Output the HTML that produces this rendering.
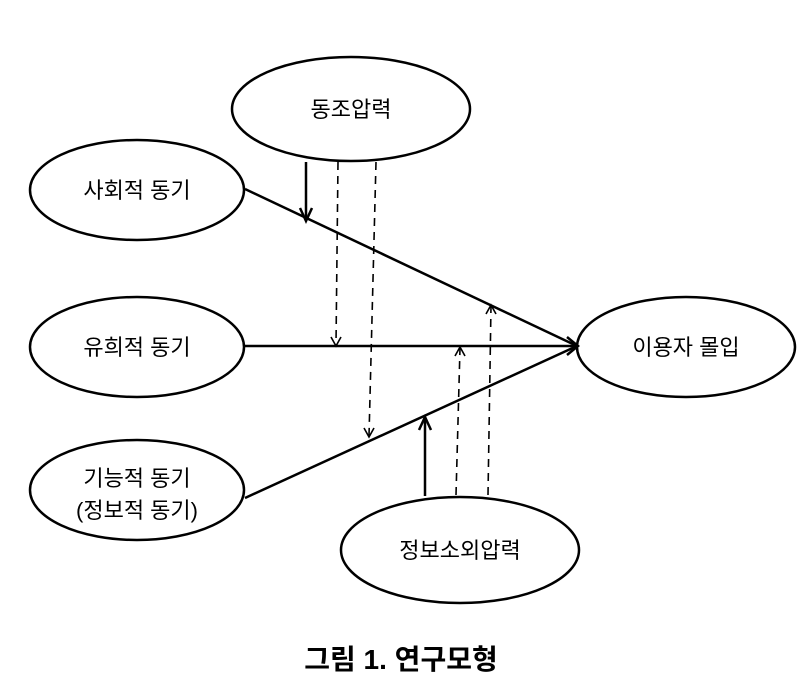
<!DOCTYPE html>
<html><head><meta charset="utf-8"><style>
html,body{margin:0;padding:0;background:#fff;}
svg text{font-family:"Liberation Sans","Noto Sans CJK KR",sans-serif;fill:#000;}
</style></head><body>
<svg width="802" height="692" viewBox="0 0 802 692" xmlns="http://www.w3.org/2000/svg">
<g fill="#fff" stroke="#000" stroke-width="2.5">
<ellipse cx="351" cy="109" rx="119" ry="52"/>
<ellipse cx="137" cy="190" rx="107" ry="50"/>
<ellipse cx="137" cy="347" rx="107" ry="50"/>
<ellipse cx="137" cy="490" rx="107" ry="50"/>
<ellipse cx="686" cy="347" rx="109" ry="50"/>
<ellipse cx="460" cy="550" rx="119" ry="53"/>
</g>
<g stroke="#000" stroke-width="2.5" fill="none">
<line x1="245" y1="189" x2="577" y2="346"/>
<line x1="245" y1="346" x2="577" y2="346"/>
<line x1="245" y1="498" x2="577" y2="346"/>
<polyline points="567,337 578,346 567,355"/>
<line x1="306" y1="162" x2="306" y2="220"/>
<polyline points="300,208 306,221 312,208"/>
<line x1="425" y1="496" x2="425" y2="418"/>
<polyline points="419,430 425,417 431,430"/>
</g>
<g stroke="#000" stroke-width="1.6" fill="none">
<line x1="338" y1="162" x2="336" y2="345" stroke-dasharray="8,6"/>
<polyline points="331,337 336,346 341,337"/>
<line x1="376" y1="162" x2="369" y2="436" stroke-dasharray="8,6"/>
<polyline points="364,428 369,437 374,428"/>
<line x1="456" y1="495" x2="460" y2="348" stroke-dasharray="8,6"/>
<polyline points="455,356 460,347 465,356"/>
<line x1="488" y1="495" x2="491" y2="306" stroke-dasharray="8,6"/>
<polyline points="486,314 491,305 496,314"/>
</g>
<g font-size="22" text-anchor="middle">
<text x="351" y="117">동조압력</text>
<text x="137" y="198">사회적 동기</text>
<text x="137" y="355">유희적 동기</text>
<text x="137" y="486">기능적 동기</text>
<text x="137" y="518">(정보적 동기)</text>
<text x="686" y="355">이용자 몰입</text>
<text x="460" y="558">정보소외압력</text>
</g>
<text x="401" y="669" font-size="28" font-weight="bold" text-anchor="middle">그림 1. 연구모형</text>
</svg>
</body></html>
